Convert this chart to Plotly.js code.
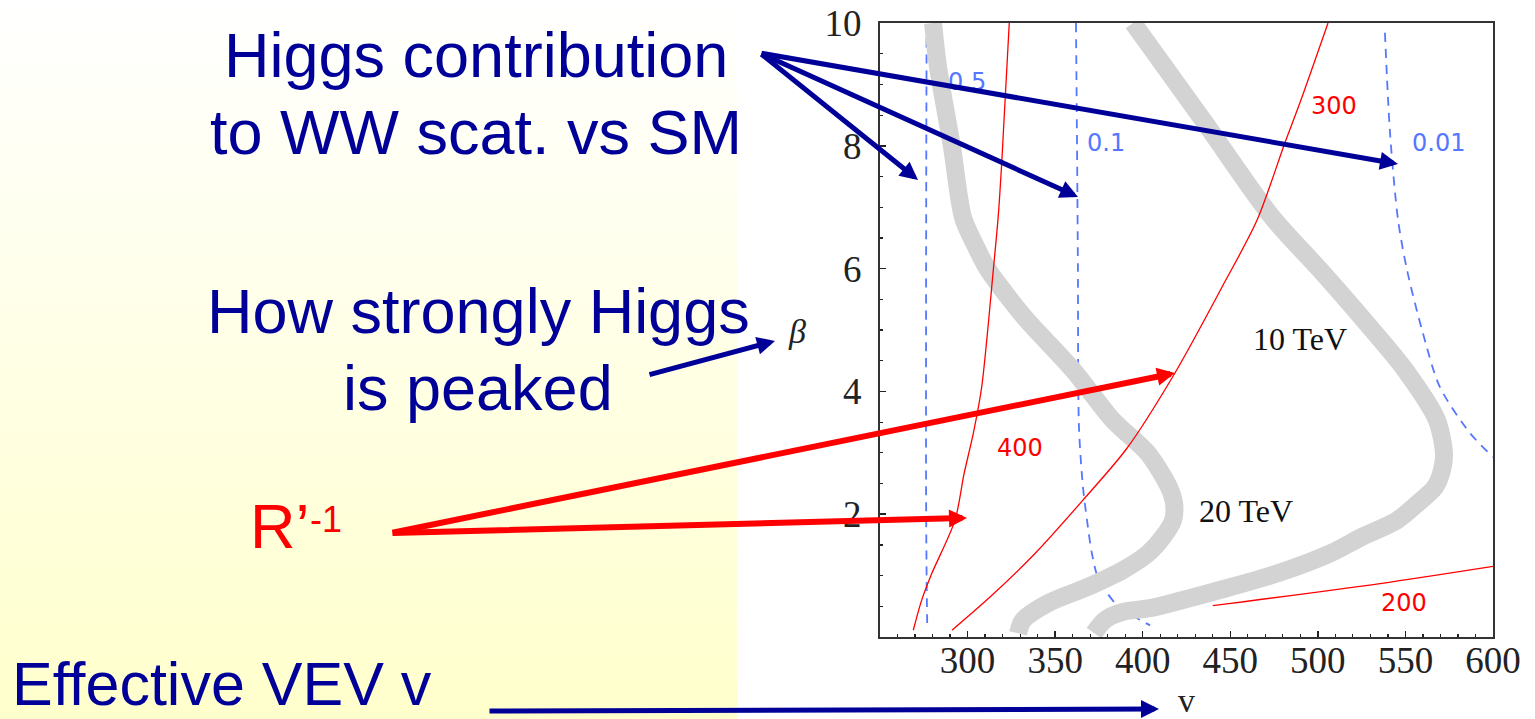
<!DOCTYPE html>
<html>
<head>
<meta charset="utf-8">
<script src="https://cdn.plot.ly/plotly-3.0.1.min.js"></script>
<style>
  html, body { margin: 0; padding: 0; background: #ffffff; }
  #slide { position: relative; width: 1535px; height: 719px; overflow: hidden; }
  #panel { position: absolute; left: 0; top: 0; width: 737px; height: 719px;
           background: linear-gradient(to bottom, #ffffff 0%, #ffffcc 100%); }
  #chart { position: absolute; left: 0; top: 0; width: 1535px; height: 719px; }
</style>
</head>
<body>
<div id="slide">
  <div id="panel"></div>
  <div id="chart"></div>
</div>
<script>
// Axis ticks
const vTicks = [300, 350, 400, 450, 500, 550, 600];
const betaTicks = [2, 4, 6, 8, 10];

// Higgs contribution to WW scattering relative to the SM (blue dashed contours)
const higgs05V    = [276.6, 276.4, 276.3, 276.3, 276.6, 277.0];
const higgs05Beta = [9.75, 7.5, 5.0, 2.5, 1.0, 0.11];
const higgs01V    = [361.9, 362.5, 363.0, 363.6, 365.9, 368.2, 371.0, 374.5, 385.3, 404.2];
const higgs01Beta = [10.0, 8.0, 6.0, 3.42, 2.44, 1.90, 1.36, 0.97, 0.52, 0.19];
const higgs001V    = [538.3, 541.2, 545.8, 550.9, 559.5, 569.7, 586.9, 600.0];
const higgs001Beta = [9.84, 8.21, 6.79, 5.98, 5.0, 4.07, 3.32, 2.93];

// Cutoff scale contours (grey bands)
const cut10V    = [280.3, 283.1, 291.1, 297.4, 304.2, 311.7, 322.3, 333.9, 360.2, 383.0, 403.0, 415.0, 417.9, 417.3, 411.6, 403.0, 388.7, 368.2, 345.9, 331.6, 328.8];
const cut10Beta = [10.0, 9.29, 7.98, 6.83, 6.39, 5.98, 5.57, 5.16, 4.35, 3.53, 2.99, 2.44, 2.18, 1.90, 1.63, 1.36, 1.09, 0.81, 0.55, 0.27, 0.06];
const cut20V    = [394.5, 434.4, 473.8, 501.2, 526.3, 549.8, 568.0, 572.0, 570.9, 566.9, 557.1, 545.2, 525.2, 506.9, 478.4, 449.8, 421.3, 404.2, 388.7, 378.5, 372.2];
const cut20Beta = [10.0, 8.42, 6.84, 5.98, 5.16, 4.35, 3.53, 2.99, 2.72, 2.44, 2.18, 1.90, 1.63, 1.36, 1.05, 0.81, 0.59, 0.47, 0.41, 0.28, 0.065];

// R'^-1 contours (red)
const r400V    = [323.8, 319.5, 317.5, 314.7, 308.1, 303.3, 298.0, 292.8, 279.5, 273.8, 269.0];
const r400Beta = [10.0, 7.72, 6.85, 5.98, 4.08, 3.32, 2.66, 1.90, 1.03, 0.60, 0.11];
const r300V    = [291.1, 312.8, 338.5, 365.9, 390.9, 418.4, 445.3, 465.3, 481.2, 490.4, 505.8];
const r300Beta = [0.11, 0.65, 1.36, 2.23, 3.07, 4.30, 5.70, 6.79, 8.05, 8.75, 10.0];
const r200V    = [440.0, 535.5, 600.0];
const r200Beta = [0.51, 0.87, 1.15];

// Contour labels
const higgsLabels = ['0.5', '0.1', '0.01'];
const higgsLabelV = [299.7, 379.0, 568.6];
const higgsLabelBeta = [9.04, 8.05, 8.05];
const rLabels = ['400', '300', '200'];
const rLabelV = [329.9, 509.2, 549.2];
const rLabelBeta = [3.08, 8.65, 0.55];
const cutLabels = ['10 TeV', '20 TeV'];
const cutLabelV = [489.8, 459.0];
const cutLabelBeta = [4.85, 2.05];

// Plot frame in page pixels
const W = 1535, H = 719;
const PL = 880, PR = 1493, PT = 23, PB = 637;
const px = x => (x - PL) / (PR - PL);
const py = y => (PB - y) / (PB - PT);

const NAVY = '#000099';
const BLUE = '#5577ff';
const RED = '#ff0000';
const GREY = '#d3d3d3';

function curve(x, y, color, width, dash) {
  return {
    type: 'scatter', mode: 'lines', x: x, y: y, hoverinfo: 'skip', showlegend: false,
    line: { color: color, width: width, dash: dash || 'solid', shape: 'spline', smoothing: 0.8 }
  };
}

// drawing order: dashed contours and the low red contour sit under the grey bands
const traces = [
  curve(higgs05V, higgs05Beta, BLUE, 1.8, '9px,7px'),
  curve(higgs01V, higgs01Beta, BLUE, 1.8, '9px,7px'),
  curve(higgs001V, higgs001Beta, BLUE, 1.8, '9px,7px'),
  curve(r200V, r200Beta, RED, 1.3),
  curve(cut10V, cut10Beta, GREY, 18),
  curve(cut20V, cut20Beta, GREY, 18),
  curve(r400V, r400Beta, RED, 1.3),
  curve(r300V, r300Beta, RED, 1.3)
];

const annotations = [];

// contour labels inside the plot
higgsLabels.forEach((t, i) => annotations.push({
  xref: 'x', yref: 'y', x: higgsLabelV[i], y: higgsLabelBeta[i], text: t, showarrow: false,
  xanchor: 'center', yanchor: 'middle',
  font: { family: 'DejaVu Sans', size: 24, color: BLUE }
}));
rLabels.forEach((t, i) => annotations.push({
  xref: 'x', yref: 'y', x: rLabelV[i], y: rLabelBeta[i], text: t, showarrow: false,
  xanchor: 'center', yanchor: 'middle',
  font: { family: 'DejaVu Sans', size: 24, color: RED }
}));
cutLabels.forEach((t, i) => annotations.push({
  xref: 'x', yref: 'y', x: cutLabelV[i], y: cutLabelBeta[i], text: t, showarrow: false,
  xanchor: 'center', yanchor: 'middle',
  font: { family: 'Liberation Serif', size: 32, color: '#111111' }
}));

// axis symbols
annotations.push({ xref: 'paper', yref: 'paper', x: px(797), y: py(331), text: '<i>β</i>',
  xanchor: 'center', yanchor: 'middle',
  showarrow: false, font: { family: 'Liberation Serif', size: 34, color: '#222222' } });
annotations.push({ xref: 'paper', yref: 'paper', x: px(1186), y: py(700), text: 'v',
  xanchor: 'center', yanchor: 'middle',
  showarrow: false, font: { family: 'Liberation Serif', size: 34, color: '#222222' } });

// explanatory captions
const capFont = { family: 'Liberation Sans, Arial, sans-serif', size: 63, color: NAVY };
function caption(text, x, y, anchor, font) {
  annotations.push({ xref: 'paper', yref: 'paper', x: px(x), y: py(y), text: text,
    xanchor: anchor, yanchor: 'middle', showarrow: false, font: font || capFont });
}
caption('Higgs contribution', 476, 55, 'center');
caption('to WW scat. vs SM', 476, 132, 'center');
caption('How strongly Higgs', 478, 311, 'center');
caption('is peaked', 478, 388, 'center');
caption('Effective VEV v', 10, 684, 'left',
  { family: 'Liberation Sans, Arial, sans-serif', size: 61, color: NAVY });
caption('R’', 248, 526, 'left', { family: 'Liberation Sans, Arial, sans-serif', size: 63, color: RED });
caption('-1', 308, 519, 'left', { family: 'Liberation Sans, Arial, sans-serif', size: 36, color: RED });

// pointer arrows: tip and tail in page pixels
function arrow(tail, tip, color, width, size) {
  annotations.push({ xref: 'paper', yref: 'paper', x: px(tip[0]), y: py(tip[1]),
    axref: 'pixel', ayref: 'pixel', ax: tail[0] - tip[0], ay: tail[1] - tip[1],
    text: '', showarrow: true, arrowhead: 2, arrowsize: size, arrowwidth: width,
    arrowcolor: color, standoff: 0, startstandoff: 0 });
}
arrow([760, 53], [918, 180], NAVY, 5, 0.72);
arrow([760, 53], [1078, 197], NAVY, 5, 0.72);
arrow([760, 53], [1398, 164], NAVY, 5, 0.72);
arrow([648, 375], [775, 341], NAVY, 5, 0.72);
arrow([488, 711], [1159, 709], NAVY, 5, 0.72);
arrow([391, 533], [1175, 373], RED, 6, 0.6);
arrow([391, 533], [967, 518], RED, 6, 0.6);

const tickFont = { family: 'Liberation Serif', size: 37, color: '#222222' };
const layout = {
  width: W, height: H,
  margin: { l: PL, r: W - PR, t: PT, b: H - PB, pad: 0 },
  paper_bgcolor: 'rgba(0,0,0,0)',
  plot_bgcolor: '#ffffff',
  showlegend: false,
  xaxis: {
    range: [250, 600], tickmode: 'array', tickvals: vTicks,
    ticks: 'inside', ticklen: 6, tickwidth: 1.5, tickcolor: '#222222',
    showline: true, mirror: true, linecolor: '#333333', linewidth: 2,
    showgrid: false, zeroline: false, tickfont: tickFont, ticklabelstandoff: -10,
    minor: { tickmode: 'linear', tick0: 250, dtick: 10, ticks: 'inside', ticklen: 3, tickwidth: 1.2, tickcolor: '#222222', showgrid: false }
  },
  yaxis: {
    range: [0, 10], tickmode: 'array', tickvals: betaTicks,
    ticks: 'inside', ticklen: 6, tickwidth: 1.5, tickcolor: '#222222',
    showline: true, mirror: true, linecolor: '#333333', linewidth: 2,
    showgrid: false, zeroline: false, tickfont: tickFont, ticklabelstandoff: 9,
    minor: { tickmode: 'linear', tick0: 0, dtick: 0.5, ticks: 'inside', ticklen: 3, tickwidth: 1.2, tickcolor: '#222222', showgrid: false }
  },
  annotations: annotations
};

Plotly.newPlot('chart', traces, layout, { displayModeBar: false, staticPlot: true });
</script>
</body>
</html>
